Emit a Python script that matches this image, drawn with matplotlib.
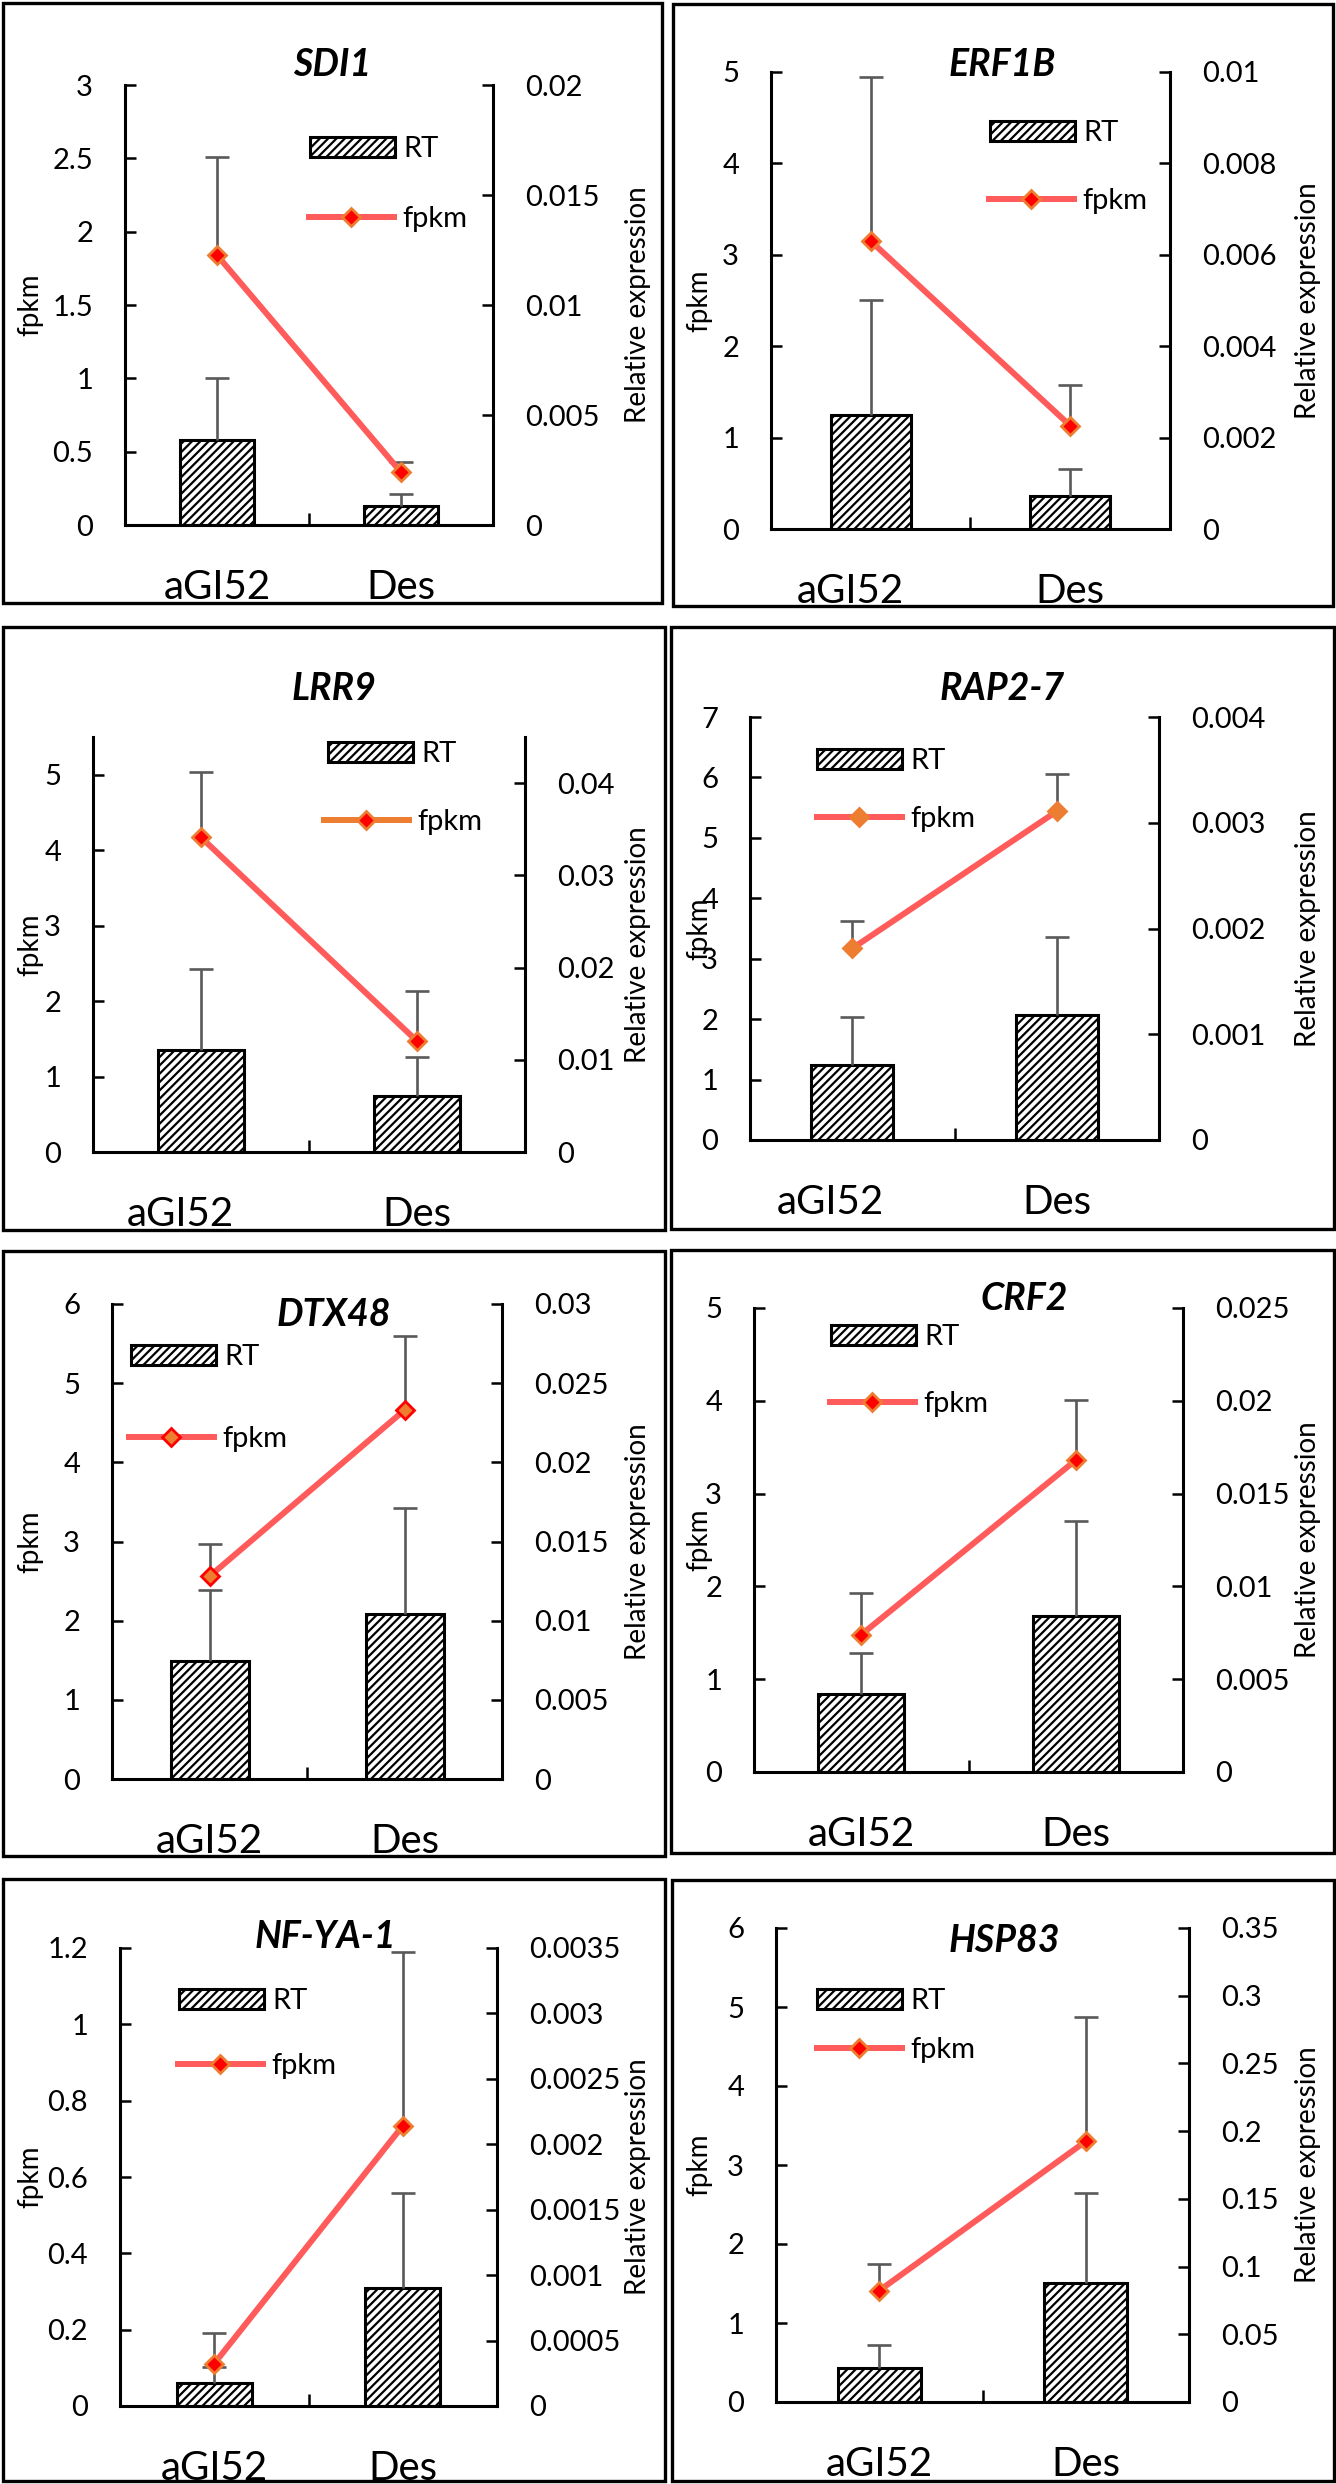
import numpy as np
import matplotlib.pyplot as plt
from matplotlib.patches import Patch, Rectangle
from matplotlib.lines import Line2D
from matplotlib.transforms import ScaledTranslation

plt.rcParams['font.family'] = ['Lato', 'DejaVu Sans']
plt.rcParams['hatch.linewidth'] = 1.6

groups = ['aGI52', 'Des']
genes = ['SDI1', 'ERF1B', 'LRR9', 'RAP2-7', 'DTX48', 'CRF2', 'NF-YA-1', 'HSP83']

# RT bars (right axis, relative expression), plus-only error
rt_mean = [[0.00387, 0.00087], [0.0025, 0.00073], [0.01105, 0.00602], [0.00071, 0.00118],
           [0.00743, 0.0104], [0.0042, 0.0084], [0.000178, 0.000901], [0.0254, 0.0881]]
rt_err = [[0.0028, 0.00053], [0.0025, 0.00058], [0.0088, 0.0043], [0.00045, 0.00074],
          [0.0045, 0.0067], [0.0022, 0.0051], [0.000117, 0.000723], [0.0164, 0.066]]

# fpkm line (left axis), plus-only error
fpkm_mean = [[1.84, 0.36], [3.15, 1.13], [4.17, 1.47], [3.17, 5.44],
             [2.56, 4.66], [1.48, 3.36], [0.111, 0.734], [1.41, 3.30]]
fpkm_err = [[0.67, 0.07], [1.79, 0.45], [0.86, 0.66], [0.46, 0.61],
            [0.41, 0.93], [0.45, 0.65], [0.079, 0.456], [0.34, 1.57]]

left_max = [3, 5, 5.5, 7, 6, 5, 1.2, 6]
left_step = [0.5, 1, 1, 1, 1, 1, 0.2, 1]
right_max = [0.02, 0.01, 0.045, 0.004, 0.03, 0.025, 0.0035, 0.35]
right_step = [0.005, 0.002, 0.01, 0.001, 0.005, 0.005, 0.0005, 0.05]

W, H = 1336, 2484

# layout, in pixels of the canvas
boxes = [(3, 3, 662, 603), (673, 4, 1333, 606), (3, 627, 665, 1230), (671, 627, 1334, 1229),
         (3, 1251, 665, 1856), (671, 1250, 1334, 1853), (3, 1879, 665, 2481), (672, 1880, 1334, 2481)]
plots = [(125, 493, 85, 525), (771, 1170, 72, 529), (93, 525, 737, 1152), (750, 1159, 717, 1140),
         (112, 502, 1304, 1779), (754, 1183, 1308, 1772), (120, 497, 1948, 2406), (776, 1189, 1928, 2402)]
titles = [(332, 65), (1002, 65), (334, 688), (1002, 689), (334, 1315), (1024, 1299), (325, 1936), (1004, 1941)]
legend_rt = [(310, 149), (990, 133), (328, 754), (817, 761), (131, 1357), (831, 1337), (179, 2001), (817, 2001)]
legend_fp = [(309, 219), (989, 201), (324, 822), (817, 819), (129, 1439), (830, 1404), (178, 2066), (817, 2050)]
label_shift = [0, -20, -21, -22, 0, 0, 0, 0]
ylab_x = [30, 699]
rlab_x = [638, 1308]

RED = '#FF0000'
ORANGE = '#ED7D31'
LINE = '#FF5B5B'
GREY = '#595959'
marker_face = [RED, RED, RED, ORANGE, ORANGE, RED, RED, RED]
marker_edge = [ORANGE, ORANGE, ORANGE, ORANGE, RED, ORANGE, ORANGE, ORANGE]
legend_line = [LINE, LINE, ORANGE, LINE, LINE, LINE, LINE, LINE]


def fx(px):
    return px / W


def fy(py):
    return 1 - py / H


def ticks(vmax, step):
    n = int(np.floor(vmax / step + 1e-6))
    return np.arange(n + 1) * step


def fmt(v):
    return f'{round(v, 6):g}'


fig = plt.figure(figsize=(W / 100, H / 100), dpi=100)
x = np.arange(len(groups))

for i, gene in enumerate(genes):
    col = i % 2
    bx0, by0, bx1, by1 = boxes[i]
    fig.add_artist(Rectangle((fx(bx0), fy(by1)), (bx1 - bx0) / W, (by1 - by0) / H,
                             transform=fig.transFigure, fill=False, ec='black', lw=2.4))

    x0, x1, yt, yb = plots[i]
    ax = fig.add_axes([fx(x0), fy(yb), (x1 - x0) / W, (yb - yt) / H])
    ax2 = ax.twinx()
    ax.set_zorder(ax2.get_zorder() + 1)
    ax.patch.set_visible(False)

    # bars
    bc = ax2.bar(x, rt_mean[i], 0.4, color='white', edgecolor='black', hatch='////', linewidth=2.2,
                 yerr=[[0, 0], rt_err[i]],
                 error_kw=dict(ecolor=GREY, elinewidth=1.9, capsize=8.5, capthick=1.9))
    bc.errorbar.lines[1][0].set_visible(False)

    # line
    eb = ax.errorbar(x, fpkm_mean[i], yerr=[[0, 0], fpkm_err[i]], fmt='none',
                     ecolor=GREY, elinewidth=1.9, capsize=8.5, capthick=1.9)
    eb.lines[1][0].set_visible(False)
    ax.plot(x, fpkm_mean[i], color=LINE, lw=4.3, marker='D', ms=9.5,
            mfc=marker_face[i], mec=marker_edge[i], mew=2)

    # axes
    lt = ticks(left_max[i], left_step[i])
    ax.set_ylim(0, left_max[i])
    ax.set_yticks(lt, [fmt(v) for v in lt])
    rtk = ticks(right_max[i], right_step[i])
    ax2.set_ylim(0, right_max[i])
    ax2.set_yticks(rtk, [fmt(v) for v in rtk])

    ax.set_xlim(-0.5, 1.5)
    ax.set_xticks([-0.5, 0.5, 1.5])
    ax.set_xticks(x, groups, minor=True)
    ax.tick_params(axis='x', which='major', direction='in', length=9, width=1.8, labelbottom=False)
    ax.tick_params(axis='x', which='minor', length=0, pad=32, labelsize=29)
    ax.tick_params(axis='y', direction='in', length=8, width=1.8, pad=23, labelsize=21)
    ax2.tick_params(axis='y', direction='in', length=8, width=1.8, pad=23, labelsize=21)

    ax.spines[['top', 'right']].set_visible(False)
    ax2.spines[['top', 'left', 'bottom']].set_visible(False)
    for s in ['left', 'bottom']:
        ax.spines[s].set_linewidth(2.2)
    ax2.spines['right'].set_linewidth(2.2)

    if label_shift[i]:
        lab = ax.get_xticklabels(minor=True)[0]
        lab.set_transform(lab.get_transform() +
                          ScaledTranslation(label_shift[i] / 100, 0, fig.dpi_scale_trans))

    # texts
    ymid = fy((yt + yb) / 2)
    fig.text(fx(ylab_x[col]), ymid, 'fpkm', rotation=90, ha='center', va='center', fontsize=20)
    fig.text(fx(rlab_x[col]), ymid, 'Relative expression', rotation=90, ha='center', va='center',
             fontsize=20)
    tx, ty = titles[i]
    fig.text(fx(tx), fy(ty), gene, fontsize=27, fontweight='bold', fontstyle='italic',
             ha='center', va='center')

    # legend entries
    rt_handle = Patch(facecolor='white', edgecolor='black', hatch='////', linewidth=2.2)
    fp_handle = Line2D([], [], color=legend_line[i], lw=4.3, marker='D', ms=9.5,
                       mfc=marker_face[i], mec=marker_edge[i], mew=2)
    for h, name, (lx, ly) in [(rt_handle, 'RT', legend_rt[i]), (fp_handle, 'fpkm', legend_fp[i])]:
        fig.legend([h], [name], loc='center left', bbox_to_anchor=(fx(lx), fy(ly)),
                   frameon=False, borderpad=0, borderaxespad=0, handlelength=2.9,
                   handleheight=0.7, handletextpad=0.3, fontsize=21)

fig.savefig('out.png', dpi=100, facecolor='white')
